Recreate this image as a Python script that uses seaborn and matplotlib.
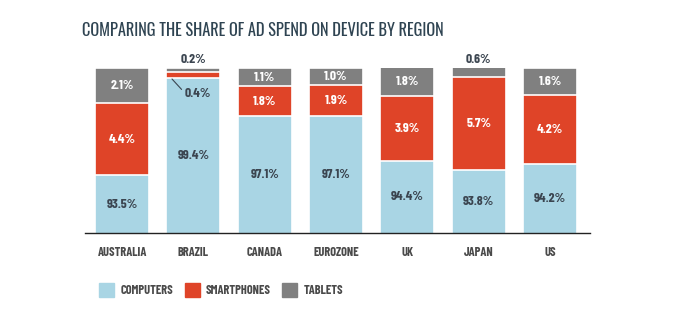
import matplotlib
matplotlib.use("Agg")
import matplotlib.pyplot as plt
from matplotlib import font_manager as fm
import seaborn as sns
import pandas as pd
import numpy as np

regions = ["AUSTRALIA", "BRAZIL", "CANADA", "EUROZONE", "UK", "JAPAN", "US"]
computers = [93.5, 99.4, 97.1, 97.1, 94.4, 93.8, 94.2]
smartphones = [4.4, 0.4, 1.8, 1.9, 3.9, 5.7, 4.2]
tablets = [2.1, 0.2, 1.1, 1.0, 1.8, 0.6, 1.6]
series_names = ["COMPUTERS", "SMARTPHONES", "TABLETS"]
title = "COMPARING THE SHARE OF AD SPEND ON DEVICE BY REGION"

sns.set_theme(style="white")


def wnum(w):
    if isinstance(w, (int, float)):
        return w
    return {"bold": 700, "semibold": 600, "demibold": 600, "heavy": 800,
            "black": 900, "extra bold": 800}.get(str(w).lower(), 400)


fonts = fm.fontManager.ttflist
available = {f.name for f in fonts}
prefs = ["Oswald", "Roboto Condensed", "Barlow Condensed", "Archivo Narrow",
         "Asap Condensed", "Liberation Sans Narrow"]
title_font = next((p for p in prefs if p in available), "DejaVu Sans")
bold_prefs = ["Oswald", "Barlow Condensed", "Roboto Condensed", "Pathway Gothic One",
              "Archivo Narrow", "Asap Condensed"]
bold_font = next((p for p in bold_prefs
                  if any(f.name == p and wnum(f.weight) >= 600 for f in fonts)),
                 title_font)
FT = [title_font, "DejaVu Sans"]
FB = [bold_font, "DejaVu Sans"]
plt.rcParams["font.family"] = FB

C_BLUE = "#a9d5e4"
C_RED = "#df4428"
C_GRAY = "#808080"
C_TEXT = "#3b4550"
colors = [C_BLUE, C_RED, C_GRAY]

df = pd.DataFrame({"region": regions, "COMPUTERS": computers,
                   "SMARTPHONES": smartphones, "TABLETS": tablets})

fig = plt.figure(figsize=(6.79, 3.27), dpi=100)
ax = fig.add_axes([85 / 679, (327 - 233) / 327, 505 / 679, 164.7 / 327])

cum = np.zeros(len(regions))
tops = []
for name in series_names:
    cum = cum + df[name].values
    tops.append(cum.copy())
for name, top, col in reversed(list(zip(series_names, tops, colors))):
    sns.barplot(x=regions, y=top, color=col, width=0.757, ax=ax,
                edgecolor="white", linewidth=1.2, saturation=1)

ax.set_ylim(90, 100)
ax.set_xlim(-0.52, 6.56)
for s in ["top", "right", "left"]:
    ax.spines[s].set_visible(False)
ax.spines["bottom"].set_color("#222222")
ax.spines["bottom"].set_linewidth(1.0)
ax.set_yticks([])
ax.tick_params(axis="x", length=0, pad=10)
for lab in ax.get_xticklabels():
    lab.set_fontsize(9)
    lab.set_fontweight("bold")
    lab.set_color("#4a4a4a")
    lab.set_family(FB)

VS = 9.8
for i in range(len(regions)):
    c, s, t = computers[i], smartphones[i], tablets[i]
    yc = (90 + min(c, 100)) / 2
    ax.text(i, yc, f"{c}%", ha="center", va="center", fontsize=VS,
            fontweight="bold", color=C_TEXT)
    if s >= 1:
        ax.text(i, c + s / 2, f"{s}%", ha="center", va="center", fontsize=VS,
                fontweight="bold", color="white")
    else:
        ax.annotate(f"{s}%", xy=(i - 0.3, c - 0.05), xytext=(i - 0.12, c - 0.9),
                    ha="left", va="center", fontsize=VS, fontweight="bold",
                    color=C_TEXT,
                    arrowprops=dict(arrowstyle="-", color=C_TEXT, lw=0.8,
                                    shrinkA=0, shrinkB=0,
                                    relpos=(0, 0.5)))
    if t >= 1:
        ax.text(i, c + s + t / 2, f"{t}%", ha="center", va="center", fontsize=VS,
                fontweight="bold", color="white")
    else:
        ax.text(i, 100.2, f"{t}%", ha="center", va="bottom", fontsize=VS,
                fontweight="bold", color=C_TEXT, clip_on=False)

fig.text(82 / 679, 1 - 30 / 327, title, ha="left", va="center", fontsize=11.8,
         color="#2f4452", family=FT)

handles = [plt.Rectangle((0, 0), 1, 1, color=c) for c in colors]
leg = fig.legend(handles, series_names, loc="center left",
                 bbox_to_anchor=(88 / 679, 1 - 290 / 327), ncol=3, frameon=False,
                 handlelength=1.2, handleheight=1.25, handletextpad=0.5,
                 columnspacing=0.9, prop={"family": FB, "weight": "bold", "size": 9})
for txt in leg.get_texts():
    txt.set_color("#4a4a4a")

fig.savefig("out.png", dpi=100)
